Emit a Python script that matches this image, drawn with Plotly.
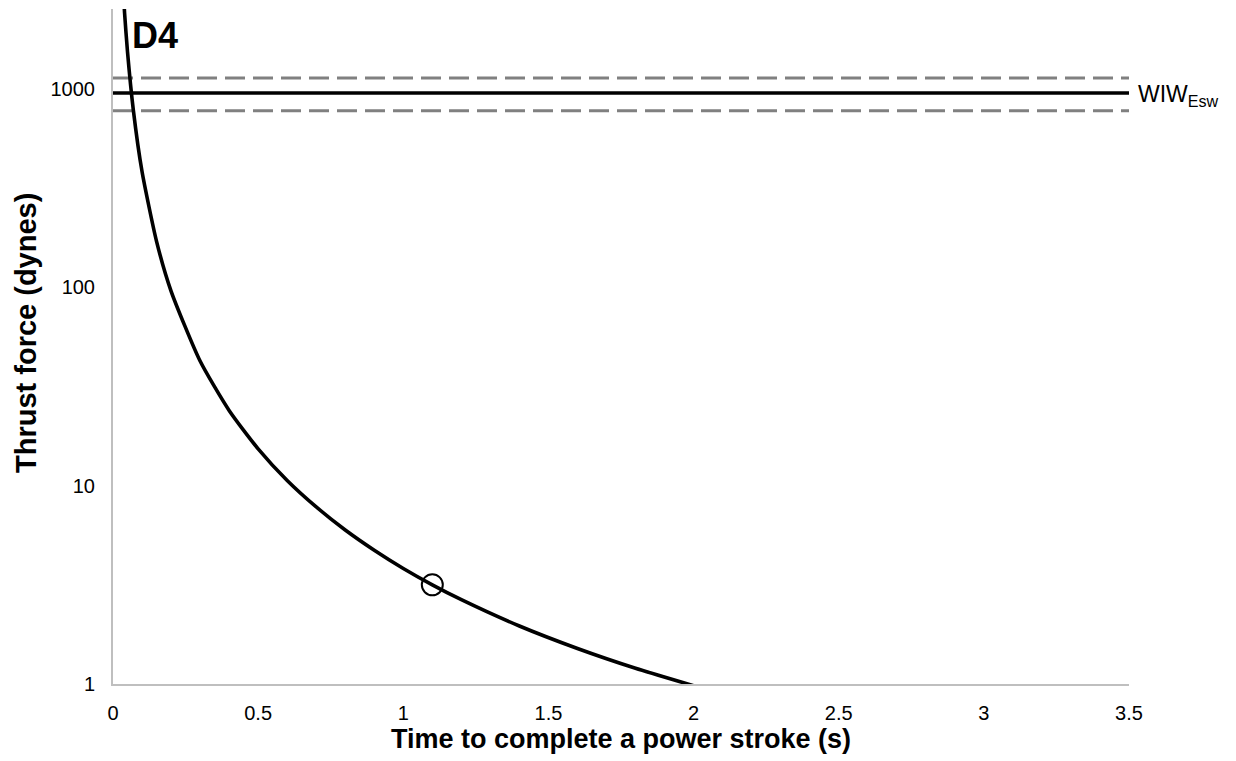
import math
import plotly.graph_objects as go

# Thrust force needed vs. time to complete a power stroke
stroke_time = [0.03, 0.04, 0.05, 0.07, 0.1, 0.15, 0.2, 0.3, 0.4, 0.5, 0.6, 0.7,
               0.8, 0.9, 1.0, 1.1, 1.2, 1.4, 1.6, 1.8, 2.0]
thrust_force = [4200, 2390, 1530, 780, 382, 170, 95.5, 42.4, 23.9, 15.3, 10.6, 7.8,
                5.97, 4.72, 3.82, 3.16, 2.66, 1.96, 1.51, 1.2, 0.98]

# Observed stroke
obs_time = [1.1]
obs_force = [3.16]

# WIW_Esw reference level and spread
wiw_x = [0, 3.5]
wiw_mean = 950
wiw_upper = 1130
wiw_lower = 773

y_ticks = [1, 10, 100, 1000]
x_ticks = [0, 0.5, 1, 1.5, 2, 2.5, 3, 3.5]

FONT = "Liberation Sans, Arial, sans-serif"
Y_TOP = 3.401

fig = go.Figure()

for level in (wiw_upper, wiw_lower):
    fig.add_trace(go.Scatter(
        x=wiw_x, y=[level, level], mode="lines",
        line=dict(color="#808080", width=3, dash="20px,8px"),
        hoverinfo="skip", showlegend=False))

fig.add_trace(go.Scatter(
    x=wiw_x, y=[wiw_mean, wiw_mean], mode="lines",
    line=dict(color="black", width=3.3), showlegend=False))

fig.add_trace(go.Scatter(
    x=stroke_time, y=thrust_force, mode="lines",
    line=dict(color="black", width=3.6, shape="spline", smoothing=0.6),
    showlegend=False))

fig.add_trace(go.Scatter(
    x=obs_time, y=obs_force, mode="markers",
    marker=dict(symbol="circle-open", size=21, color="black",
                line=dict(width=2, color="black")),
    showlegend=False))

fig.add_annotation(
    x=3.5, y=math.log10(wiw_mean), xref="x", yref="y",
    text="WIW<sub>Esw</sub>", showarrow=False,
    xanchor="left", yanchor="middle", xshift=7, yshift=-2,
    font=dict(family=FONT, size=23, color="black"))

fig.add_annotation(
    x=0.058, y=1, xref="x", yref="paper",
    text="<b>D4</b>", showarrow=False,
    xanchor="left", yanchor="top", yshift=-4,
    font=dict(family=FONT, size=36, color="black"))

# Vertical axis title
fig.add_annotation(
    x=0, y=(684 - 333) / 675, xref="paper", yref="paper",
    text="<b>Thrust force (dynes)</b>", showarrow=False, textangle=-90,
    xanchor="center", yanchor="middle", xshift=-87,
    font=dict(family=FONT, size=29, color="black"))

fig.update_xaxes(
    range=[0, 3.5], tickvals=x_ticks,
    ticktext=["0", "0.5", "1", "1.5", "2", "2.5", "3", "3.5"],
    showgrid=False, zeroline=False, showline=True,
    linecolor="#bfbfbf", linewidth=2, ticks="", ticklabelstandoff=10,
    tickfont=dict(family=FONT, size=20, color="black"),
    title=dict(text="<b>Time to complete a power stroke (s)</b>",
               font=dict(family=FONT, size=27, color="black"), standoff=5))

fig.update_yaxes(
    type="log", range=[0, Y_TOP], tickvals=y_ticks,
    ticktext=["1", "10", "100", "1000"],
    showgrid=False, zeroline=False, showline=True,
    linecolor="#bfbfbf", linewidth=2, ticks="", ticklabelstandoff=12,
    tickfont=dict(family=FONT, size=20, color="black"))

fig.update_layout(
    width=1236, height=761,
    margin=dict(l=113, r=107, t=9, b=77),
    paper_bgcolor="white", plot_bgcolor="white",
    font=dict(family=FONT, color="black"))

fig.write_html("out.html")
